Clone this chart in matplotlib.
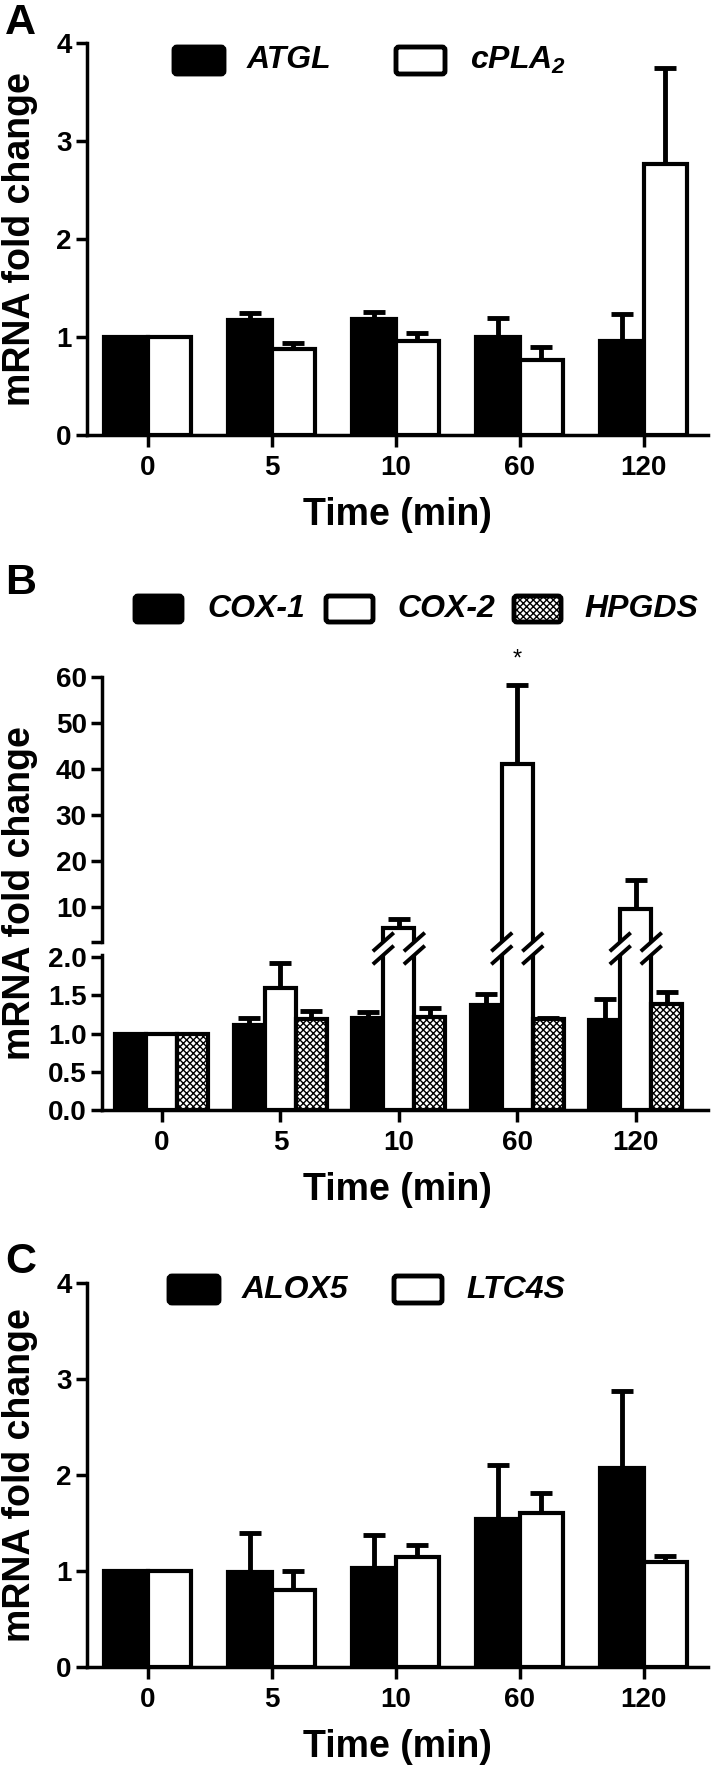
import numpy as np
import matplotlib
matplotlib.use("Agg")
import matplotlib.pyplot as plt
from matplotlib.patches import FancyBboxPatch
from matplotlib.lines import Line2D
from matplotlib.transforms import Affine2D

plt.rcParams["font.family"] = ["Liberation Sans", "DejaVu Sans"]
plt.rcParams["font.weight"] = "bold"
plt.rcParams["mathtext.fontset"] = "custom"
plt.rcParams["mathtext.it"] = "Liberation Sans:italic:bold"
plt.rcParams["mathtext.rm"] = "Liberation Sans:italic:bold"
plt.rcParams["hatch.linewidth"] = 1.0

# data (mean and upper SEM)
times = ["0", "5", "10", "60", "120"]

atgl = [1.0, 1.17, 1.18, 1.0, 0.96]
atgl_sem = [0, 0.08, 0.08, 0.19, 0.27]
cpla2 = [1.0, 0.88, 0.96, 0.77, 2.77]
cpla2_sem = [0, 0.06, 0.08, 0.13, 0.98]

cox1 = [1.0, 1.11, 1.21, 1.37, 1.18]
cox1_sem = [0, 0.10, 0.07, 0.15, 0.27]
cox2 = [1.0, 1.60, 5.5, 41.0, 9.6]
cox2_sem = [0, 0.33, 1.8, 17.3, 6.2]
hpgds = [1.0, 1.19, 1.22, 1.19, 1.39]
hpgds_sem = [0, 0.11, 0.11, 0.02, 0.15]

alox5 = [1.0, 0.99, 1.03, 1.54, 2.07]
alox5_sem = [0, 0.41, 0.34, 0.56, 0.80]
ltc4s = [1.0, 0.80, 1.15, 1.60, 1.09]
ltc4s_sem = [0, 0.20, 0.12, 0.21, 0.07]

W, H = 711, 1770
fig = plt.figure(figsize=(W / 100, H / 100), dpi=100)
# pixel coords (origin top-left) -> display
PX = Affine2D().scale(1 / W, -1 / H).translate(0, 1) + fig.transFigure


def rect(l, t, r, b):
    return [l / W, 1 - b / H, (r - l) / W, (b - t) / H]


def bar_style(kind):
    if kind == "black":
        return dict(facecolor="black", edgecolor="black")
    if kind == "white":
        return dict(facecolor="white", edgecolor="black")
    return dict(facecolor="white", edgecolor="black", hatch="xxxxx")


def draw_bars(ax, x, vals, sems, kind, width):
    vals = np.array(vals)
    sems = np.array(sems)
    ax.bar(x, vals, width, linewidth=3, zorder=2, **bar_style(kind))
    # only error bars whose cap falls inside this axis' y range
    idx = (sems > 0) & (vals + sems > ax.get_ylim()[0])
    ax.errorbar(x[idx], vals[idx], yerr=[np.zeros(idx.sum()), sems[idx]],
                fmt="none", ecolor="black", elinewidth=3.5, capsize=8,
                capthick=3.5, zorder=1)


def style_ax(ax, bottom=True):
    ax.spines["top"].set_visible(False)
    ax.spines["right"].set_visible(False)
    ax.spines["left"].set_linewidth(2.5)
    ax.spines["bottom"].set_linewidth(2.5)
    ax.tick_params(axis="y", length=8, width=2.5, pad=3, labelsize=20)
    ax.tick_params(axis="x", length=8.5, width=2.5, pad=6, labelsize=20)
    if not bottom:
        ax.spines["bottom"].set_visible(False)
        ax.tick_params(axis="x", bottom=False, labelbottom=False)


def legend_item(l, t, r, b, kind, label, tx):
    p = FancyBboxPatch((l, t), r - l, b - t, boxstyle="round,pad=0,rounding_size=3",
                       transform=PX, linewidth=3.5, **bar_style(kind))
    fig.patches.append(p)
    fig.text(tx, (t + b) / 2, label, transform=PX, ha="left", va="center",
             fontsize=23, style="italic", fontweight="bold")


x = np.arange(len(times))

# ---------- A ----------
axA = fig.add_axes(rect(87, 43, 708, 435))
axA.set_xlim(-0.49, 4.52)
axA.set_ylim(0, 4)
draw_bars(axA, x - 0.175, atgl, atgl_sem, "black", 0.35)
draw_bars(axA, x + 0.175, cpla2, cpla2_sem, "white", 0.35)
axA.set_yticks([0, 1, 2, 3, 4])
axA.set_xticks(x, times)
style_ax(axA)

# ---------- B (broken axis) ----------
axBu = fig.add_axes(rect(102, 677, 708, 942))
axBl = fig.add_axes(rect(102, 955, 708, 1110))
axBu.set_ylim(2.4, 60)
axBl.set_ylim(0, 2.03)
for ax in (axBu, axBl):
    ax.set_xlim(-0.506, 4.61)
    draw_bars(ax, x - 0.262, cox1, cox1_sem, "black", 0.262)
    draw_bars(ax, x, cox2, cox2_sem, "white", 0.262)
    draw_bars(ax, x + 0.262, hpgds, hpgds_sem, "hatch", 0.262)
axBu.set_ylim(2.4, 60)
axBu.set_yticks([2.4, 10, 20, 30, 40, 50, 60], ["", "10", "20", "30", "40", "50", "60"])
style_ax(axBu, bottom=False)
axBl.set_ylim(0, 2.03)
axBl.set_yticks([0, 0.5, 1.0, 1.5, 2.0], ["0.0", "0.5", "1.0", "1.5", "2.0"])
axBl.set_xticks(x, times)
style_ax(axBl)
axBu.text(3, 63.7, "*", ha="center", va="center", fontsize=17,
          fontweight="normal", clip_on=False)

# break slashes on bars that cross the gap
fig.canvas.draw()
inv = PX.inverted()
for i, v in enumerate(cox2):
    if v <= axBl.get_ylim()[1]:
        continue
    for xe in (i - 0.131, i + 0.131):
        for ax, ya in ((axBu, 0.0), (axBl, 1.0)):
            xa = ax.transAxes.inverted().transform(ax.transData.transform((xe, 1)))[0]
            px, py = inv.transform(ax.transAxes.transform((xa, ya)))
            fig.lines.append(Line2D([px - 9, px + 9], [py + 8, py - 8], transform=PX,
                                    color="black", linewidth=2.8))

# ---------- C ----------
axC = fig.add_axes(rect(87, 1283, 708, 1667))
axC.set_xlim(-0.49, 4.52)
axC.set_ylim(0, 4)
draw_bars(axC, x - 0.175, alox5, alox5_sem, "black", 0.35)
draw_bars(axC, x + 0.175, ltc4s, ltc4s_sem, "white", 0.35)
axC.set_yticks([0, 1, 2, 3, 4])
axC.set_xticks(x, times)
style_ax(axC)

# ---------- labels ----------
for letter, ty in (("A", 3), ("B", 563), ("C", 1242)):
    fig.text(5, ty, letter, transform=PX, ha="left", va="top", fontsize=31,
             fontweight="bold")
for yc in (239, 893, 1475):
    fig.text(20, yc, "mRNA fold change", transform=PX, rotation=90,
             ha="center", va="center", fontsize=27, fontweight="bold")
for yc in (515, 1190, 1747):
    fig.text(397, yc, "Time (min)", transform=PX, ha="center", va="center",
             fontsize=27, fontweight="bold")

legend_item(174, 47, 224, 74, "black", "ATGL", 247)
legend_item(396, 47, 445, 74, "white", r"$cPLA_2$", 470)
legend_item(135, 596, 182, 622, "black", "COX-1", 207)
legend_item(326, 596, 373, 622, "white", "COX-2", 397)
legend_item(514, 596, 561, 622, "hatch", "HPGDS", 584)
legend_item(169, 1276, 219, 1303, "black", "ALOX5", 242)
legend_item(394, 1276, 442, 1303, "white", "LTC4S", 466)

fig.savefig("out.png", dpi=100, facecolor="white")
